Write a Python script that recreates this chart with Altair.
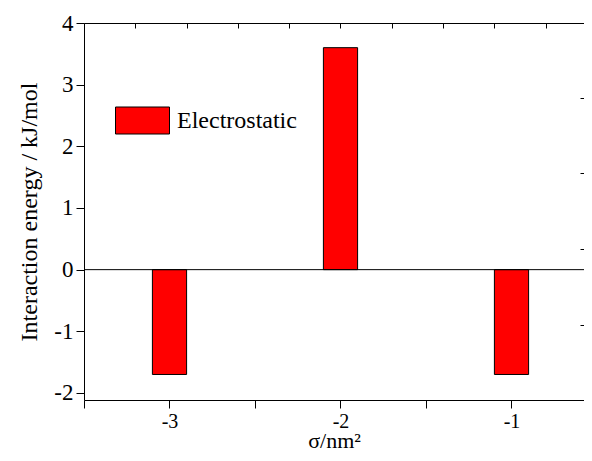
import altair as alt
import pandas as pd

# data
sigma = [-3, -2, -1]
energy = [-1.7, 3.6, -1.7]
series = ["Electrostatic", "Electrostatic", "Electrostatic"]

x_domain = [-3.5, -0.576]
y_domain = [-2.114, 4.0]
x_ticks = [-3.5, -3, -2.5, -2, -1.5, -1]
y_major = [-2, -1, 0, 1, 2, 3, 4]
y_minor = [-1.5, -0.5, 0.5, 1.5, 2.5, 3.5]
top_ticks = [-3.5, -3.2, -2.9, -2.6, -2.3, -2.0, -1.7, -1.4, -1.1, -0.8]
right_ticks = [2.78, 1.563, 0.331, -0.897]
bar_half = 0.1

df = pd.DataFrame({"sigma": sigma, "energy": energy, "series": series})

FONT = "Liberation Serif, Times New Roman, Times, serif"
W, H = 500, 377

xs = alt.Scale(domain=x_domain, nice=False, zero=False)
ys = alt.Scale(domain=y_domain, nice=False, zero=False)

lab = "datum.value % 1 === 0 ? (datum.value < 0 ? '-' : '') + abs(datum.value) : ''"

base = alt.Chart(df)

bars = base.mark_bar(stroke="black", strokeWidth=1, opacity=1).transform_calculate(
    x0=f"datum.sigma - {bar_half}", x1=f"datum.sigma + {bar_half}", zero="0"
).encode(
    x=alt.X("x0:Q", scale=xs, axis=alt.Axis(
        values=x_ticks, labelExpr=lab, tickSize=8, labelPadding=3,
        labelFontSize=20, labelFlush=False,
        title="σ/nm²", titleFontSize=22, titleBaseline="alphabetic", titleY=47)),
    x2="x1:Q",
    y=alt.Y("energy:Q", scale=ys, axis=alt.Axis(
        values=y_major, labelExpr=lab, tickSize=8, labelPadding=3,
        labelFontSize=23, labelFlush=False, labelBaseline="middle",
        title="Interaction energy / kJ/mol", titleFontSize=24, titlePadding=12)),
    y2="zero:Q",
    color=alt.Color("series:N", scale=alt.Scale(range=["#ff0000"]), legend=alt.Legend(
        title=None, orient="none", legendX=31, legendY=70,
        symbolType="M-1,-0.5H1V0.5H-1Z", symbolSize=2916,
        symbolStrokeColor="black", symbolStrokeWidth=1,
        labelFont=FONT, labelFontSize=24, labelColor="black", labelOffset=7,
        padding=0)),
)

zero_rule = base.mark_rule(color="black", strokeWidth=1).encode(
    y=alt.Y("energy:Q", scale=ys, axis=None).aggregate("min"),
).transform_calculate(energy="0")

minor_y = base.mark_point(opacity=0).encode(
    y=alt.Y("energy:Q", scale=ys, axis=alt.Axis(
        values=y_minor, tickSize=5, labels=False, domain=False, title=None)),
)

top_axis = base.mark_point(opacity=0).encode(
    x=alt.X("sigma:Q", scale=xs, axis=alt.Axis(
        orient="bottom", offset=-H, values=top_ticks, tickSize=5,
        labels=False, title=None, domain=True)),
)

right_axis = base.mark_point(opacity=0).encode(
    y=alt.Y("energy:Q", scale=ys, axis=alt.Axis(
        orient="left", offset=-W, values=right_ticks, tickSize=4,
        labels=False, title=None, domain=False)),
)

chart = alt.layer(bars, zero_rule, minor_y, top_axis, right_axis).resolve_scale(
    x="independent", y="independent"
).properties(
    width=W, height=H,
    autosize=alt.AutoSizeParams(type="none"),
    padding={"left": 76, "top": 15, "right": 0, "bottom": 53},
).configure_axis(
    grid=False, domainColor="black", tickColor="black", domainWidth=1, tickWidth=1,
    labelFont=FONT, labelColor="black",
    titleFont=FONT, titleFontWeight="normal", titleColor="black",
).configure_view(strokeWidth=0)

chart.save("out.html", embed_options={"renderer": "svg", "actions": False})
